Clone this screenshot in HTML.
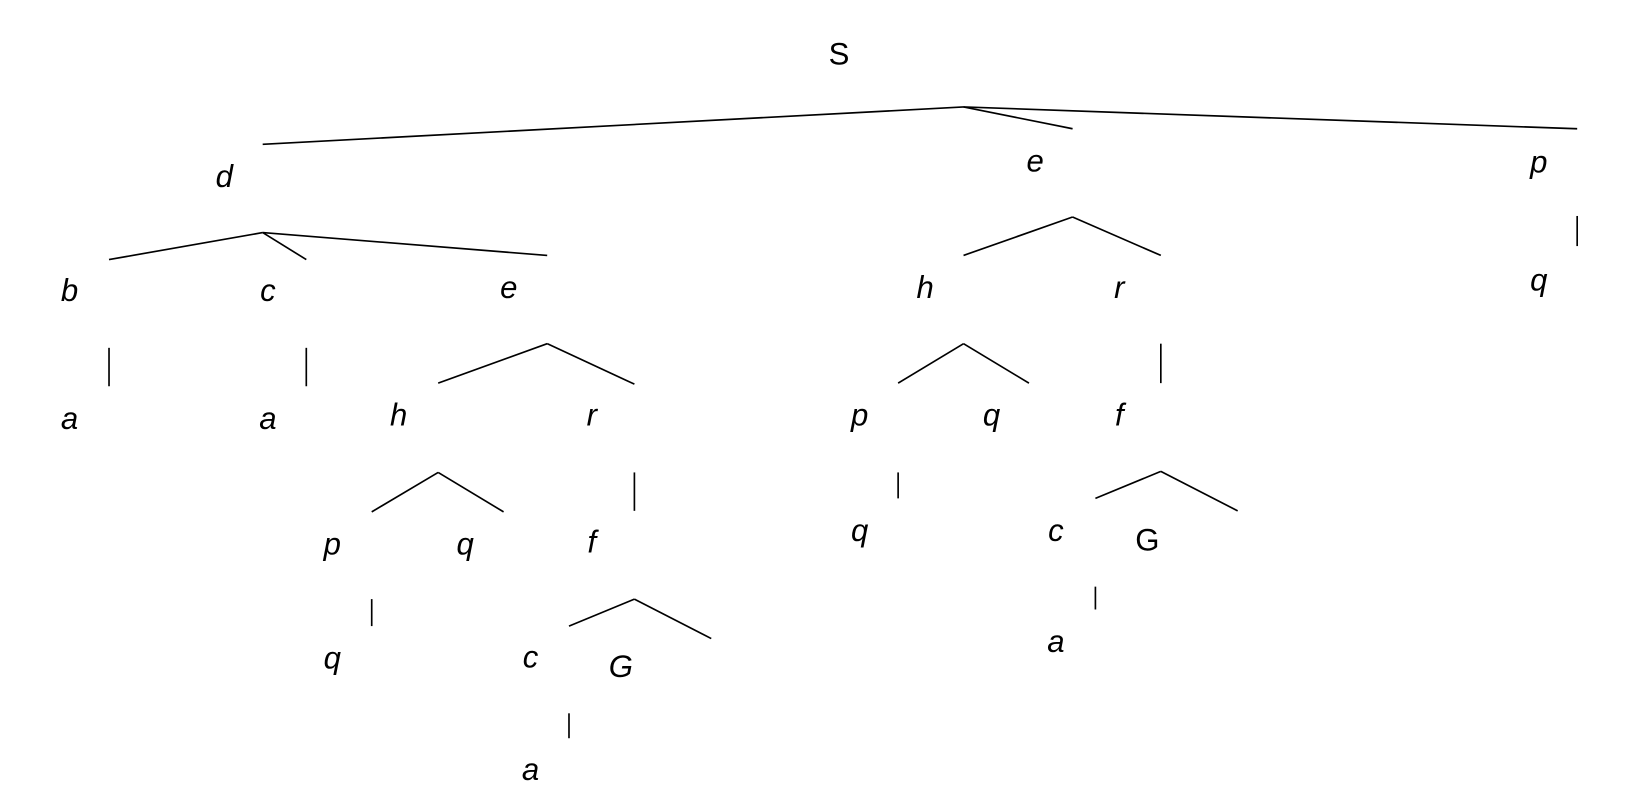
<!DOCTYPE html>
<html><head><meta charset="utf-8">
<style>
html,body{margin:0;padding:0;background:#fff;}
svg{display:block;}
text{font-family:"Liberation Sans",Arial,sans-serif;font-size:30px;fill:#000;text-anchor:middle;}
.i{font-style:italic;}
line{stroke:#000;stroke-width:1.6;}
</style></head>
<body>
<svg width="1628" height="810" viewBox="0 0 1628 810">
<g transform="scale(1.0383)">
<g>
<line x1="928" y1="103" x2="253" y2="139"/><line x1="928" y1="103" x2="1033" y2="124"/><line x1="928" y1="103" x2="1519" y2="124"/>
<line x1="253" y1="224" x2="105" y2="250"/><line x1="253" y1="224" x2="295" y2="250"/><line x1="253" y1="224" x2="527" y2="246"/>
<line x1="105" y1="335" x2="105" y2="372"/><line x1="295" y1="335" x2="295" y2="372"/>
<line x1="527" y1="331" x2="422" y2="369"/><line x1="527" y1="331" x2="611" y2="370"/>
<line x1="422" y1="455" x2="358" y2="493"/><line x1="422" y1="455" x2="485" y2="493"/>
<line x1="358" y1="577" x2="358" y2="603"/>
<line x1="611" y1="455" x2="611" y2="492"/>
<line x1="611" y1="577" x2="548" y2="603"/><line x1="611" y1="577" x2="685" y2="615"/>
<line x1="548" y1="687" x2="548" y2="711"/>
<line x1="1033" y1="209" x2="928" y2="246"/><line x1="1033" y1="209" x2="1118" y2="246"/>
<line x1="928" y1="331" x2="865" y2="369"/><line x1="928" y1="331" x2="991" y2="369"/>
<line x1="865" y1="455" x2="865" y2="480"/>
<line x1="1118" y1="331" x2="1118" y2="369"/>
<line x1="1118" y1="454" x2="1055" y2="480"/><line x1="1118" y1="454" x2="1192" y2="492"/>
<line x1="1055" y1="565" x2="1055" y2="587"/>
<line x1="1519" y1="208" x2="1519" y2="237"/>
</g>
<g>
<text x="808" y="62">S</text>
<text class="i" x="216" y="180">d</text>
<text class="i" x="997" y="165">e</text>
<text class="i" x="1482" y="166">p</text>
<text class="i" x="67" y="290">b</text>
<text class="i" x="258" y="290">c</text>
<text class="i" x="490" y="287">e</text>
<text class="i" x="67" y="413">a</text>
<text class="i" x="258" y="413">a</text>
<text class="i" x="384" y="410">h</text>
<text class="i" x="570" y="410">r</text>
<text class="i" x="320" y="534">p</text>
<text class="i" x="448" y="534">q</text>
<text class="i" x="570" y="532">f</text>
<text class="i" x="320" y="644">q</text>
<text class="i" x="511" y="643">c</text>
<text class="i" x="598" y="652">G</text>
<text class="i" x="511" y="751">a</text>
<text class="i" x="891" y="287">h</text>
<text class="i" x="1078" y="287">r</text>
<text class="i" x="828" y="410">p</text>
<text class="i" x="955" y="410">q</text>
<text class="i" x="1078" y="410">f</text>
<text class="i" x="828" y="521">q</text>
<text class="i" x="1017" y="521">c</text>
<text x="1105" y="530">G</text>
<text class="i" x="1017" y="628">a</text>
<text class="i" x="1482" y="280">q</text>
</g>
</g>
</svg>
</body></html>
